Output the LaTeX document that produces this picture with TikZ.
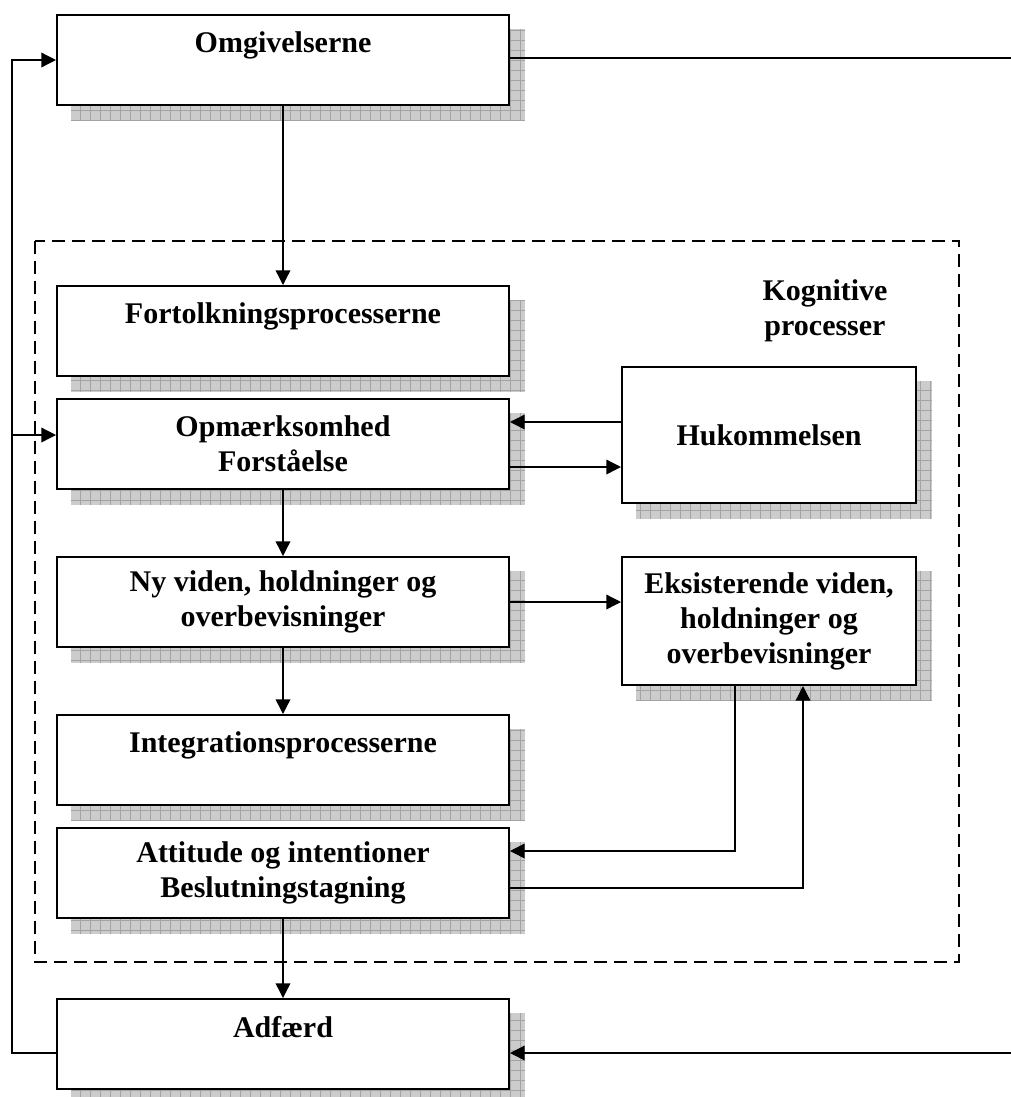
\documentclass[tikz,border=0pt]{standalone}
\usepackage{fontspec}
\setmainfont{Liberation Serif}
\usetikzlibrary{arrows.meta,calc,backgrounds}

\tikzset{
  box/.style={draw, line width=1.5pt, fill=white, align=center,
    font=\bfseries\fontsize{22.5}{26.25}\selectfont,
    minimum width=339pt, minimum height=67.5pt, inner sep=2pt},
  sidebox/.style={box, minimum width=220.5pt},
  heading/.style={align=center, font=\bfseries\fontsize{22.5}{26.25}\selectfont},
  link/.style={line width=1pt},
  arr/.style={link, -{Triangle[length=11pt,width=11pt]}},
  frame/.style={line width=1.1pt, dash pattern=on 9.75pt off 5.25pt},
  shadefill/.style={fill=black!20},
  shadegrid/.style={draw=black!36, line width=0.45pt, step=7.5pt},
}

\begin{document}
\begin{tikzpicture}[x=0.75pt, y=-0.75pt]
  \useasboundingbox (0,0) rectangle (1011,1097);

  % dashed frame around the cognitive processes
  \draw[frame] (35,241) rectangle (959,962);
  \node[heading] (kog) at (825,311) {Kognitive\\processer};

  % main column
  \node[box] (omg)   at (283,60)   {Omgivelserne\\\mbox{}};
  \node[box] (fort)  at (283,331)  {Fortolkningsprocesserne\\\mbox{}};
  \node[box] (ops)   at (283,444)  {Opmærksomhed\\Forståelse};
  \node[box] (ny)    at (283,602)  {Ny viden, holdninger og\\overbevisninger};
  \node[box] (integ) at (283,760)  {Integrationsprocesserne\\\mbox{}};
  \node[box] (att)   at (283,873)  {Attitude og intentioner\\Beslutningstagning};
  \node[box] (adf)   at (283,1044) {Adfærd\\\mbox{}};

  % side column
  \node[sidebox, minimum height=102pt] (huk) at (769,435) {Hukommelsen};
  \node[sidebox, minimum height=96pt]  (eks) at (769,621)
    {Eksisterende viden,\\holdninger og\\overbevisninger};

  % hatched drop shadows behind every box
  \begin{scope}[on background layer]
    \foreach \b in {omg,fort,ops,ny,integ,att,adf,huk,eks}{
      \begin{scope}
        \clip ($(\b.south west)+(15,15)$) rectangle ($(\b.north east)+(15,15)$);
        \fill[shadefill] ($(\b.south west)+(15,15)$) rectangle ($(\b.north east)+(15,15)$);
        \draw[shadegrid] ($(\b.south west)+(15,15)$) grid ($(\b.north east)+(15,15)$);
      \end{scope}
    }
  \end{scope}

  % corner points of the outer feedback lines
  \coordinate (lb) at (12,1053);
  \coordinate (lt) at (12,60);
  \coordinate (lm) at (12,435);
  \coordinate (tr) at (1011,58);
  \coordinate (br) at (1011,1053);

  % downward flow
  \draw[arr] (omg.south) -- (fort.north);
  \draw[arr] (ops.south) -- (ny.north);
  \draw[arr] (ny.south) -- (integ.north);
  \draw[arr] (att.south) -- (adf.north);

  % exchange with memory and existing knowledge
  \draw[arr] ($(huk.west)+(0,-13)$) -- ($(ops.east)+(0,-22)$);
  \draw[arr] ($(ops.east)+(0,23)$) -- ($(huk.west)+(0,32)$);
  \draw[arr] (ny.east) -- ($(eks.west)+(0,-19)$);
  \draw[arr] ($(eks.south)+(-34,0)$) |- ($(att.east)+(0,-22)$);
  \draw[arr] ($(att.east)+(0,15)$) -| ($(eks.south)+(34,0)$);

  % outer loop
  \draw[arr] ($(adf.west)+(0,9)$) -- (lb) -- (lt) -- (omg.west);
  \draw[arr] (lm) -- ($(ops.west)+(0,-9)$);
  \draw[link] ($(omg.east)+(0,-2)$) -- (tr);
  \draw[arr] (br) -- ($(adf.east)+(0,9)$);
\end{tikzpicture}
\end{document}
